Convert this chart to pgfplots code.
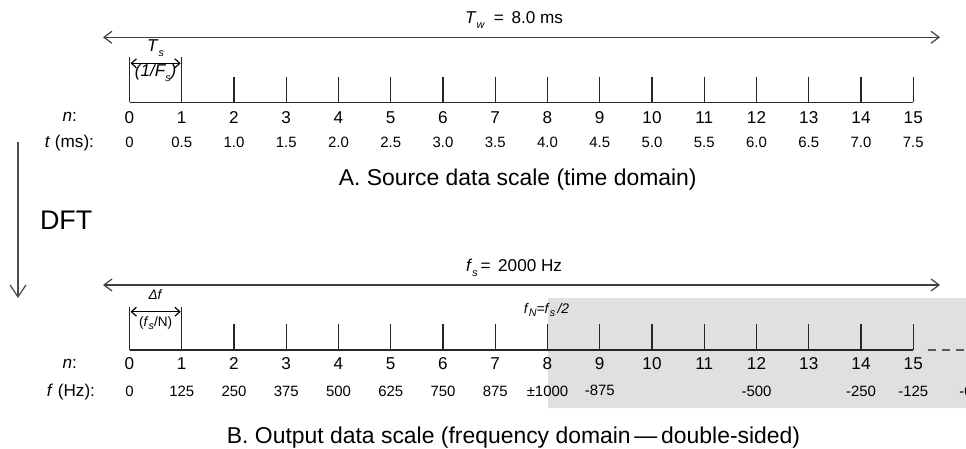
\documentclass[border=0pt]{standalone}
\usepackage{pgfplots}
\pgfplotsset{compat=1.18}
\usetikzlibrary{arrows.meta}
\usepackage{fontspec}
\setmainfont{Liberation Sans}
\newcommand{\fN}{\fontsize{8.6}{10}\selectfont}
\newcommand{\fT}{\fontsize{7.5}{9}\selectfont}
\newcommand{\fTitle}{\fontsize{11.5}{13}\selectfont}
\newcommand{\sub}[1]{\raisebox{-0.5ex}{\fontsize{5.4}{6}\selectfont\itshape #1}}
\begin{document}
\begin{tikzpicture}
\path[use as bounding box] (0,0) rectangle (483bp,224.5bp);
\begin{axis}[at={(0,0)},anchor=south west,scale only axis,
  width=483bp,height=224.5bp,
  xmin=-2.4785,xmax=16.0096,ymin=0,ymax=449,y dir=reverse,
  hide axis,clip=false]
% shaded negative-frequency region
\addplot[fill=black!12,draw=none] coordinates {(8.01,298)(16.0096,298)(16.0096,408)(8.01,408)(8.01,298)};
% ---------- A: time domain ----------
\addplot[line width=0.6pt,black!75,{Straight Barb[length=4bp,width=6bp]}-{Straight Barb[length=4bp,width=6bp]}] coordinates {(-0.507,37.3)(15.512,37.3)};
\addplot[line width=0.55pt,black!85] coordinates {(0,102.3)(15,102.3)};
\addplot[line width=0.55pt,black!85] coordinates {(0,57)(0,102.3)};
\addplot[line width=0.55pt,black!85] coordinates {(1,57)(1,102.3)};
\pgfplotsinvokeforeach{2,...,15}{
  \addplot[line width=0.55pt,black!85] coordinates {(#1,76.7)(#1,102.3)};
}
\addplot[line width=0.6pt,black,{Straight Barb[length=2.5bp,width=4.5bp]}-{Straight Barb[length=2.5bp,width=4.5bp]}] coordinates {(0.02,63.3)(0.98,63.3)};
% ---------- B: frequency domain ----------
\addplot[line width=0.6pt,black!75,{Straight Barb[length=4bp,width=6bp]}-{Straight Barb[length=4bp,width=6bp]}] coordinates {(-0.507,285)(15.512,285)};
\addplot[line width=0.55pt,black!85] coordinates {(0,350)(15,350)};
\addplot[line width=0.55pt,black!65,dash pattern=on 4bp off 3bp] coordinates {(15.28,350)(16.0096,350)};
\addplot[line width=0.55pt,black!85] coordinates {(0,306.7)(0,350)};
\addplot[line width=0.55pt,black!85] coordinates {(1,306.7)(1,350)};
\pgfplotsinvokeforeach{2,...,15}{
  \addplot[line width=0.55pt,black!85] coordinates {(#1,324)(#1,350)};
}
\addplot[line width=0.6pt,black,{Straight Barb[length=2.5bp,width=4.5bp]}-{Straight Barb[length=2.5bp,width=4.5bp]}] coordinates {(0.02,311.7)(0.98,311.7)};
% DFT arrow
\addplot[line width=0.6pt,black!70,-{Straight Barb[length=6bp,width=8bp]}] coordinates {(-2.134,142)(-2.134,298)};
% ---------- text ----------
\node[font=\fN] at (axis cs:7.36,20) {\textit{T}\sub{w}\ \ =\ \,8.0 ms};
\node[font=\fN] at (axis cs:0.5,48) {\textit{T}\sub{s}};
\node[font=\fN] at (axis cs:0.5,73) {\textit{(1/F\sub{s})}};
\pgfplotsinvokeforeach{0,...,15}{
  \node[font=\fN] at (axis cs:#1,117.3) {#1};
  \node[font=\fN] at (axis cs:#1,364) {#1};
}
\node[font=\fN,anchor=east] at (axis cs:-0.871,117.3) {\textit{n}:};
\node[font=\fN,anchor=east] at (axis cs:-0.545,142.7) {\textit{t} (ms):};
\node[font=\fT] at (axis cs:0,142.7) {0};
\node[font=\fT] at (axis cs:1,142.7) {0.5};
\node[font=\fT] at (axis cs:2,142.7) {1.0};
\node[font=\fT] at (axis cs:3,142.7) {1.5};
\node[font=\fT] at (axis cs:4,142.7) {2.0};
\node[font=\fT] at (axis cs:5,142.7) {2.5};
\node[font=\fT] at (axis cs:6,142.7) {3.0};
\node[font=\fT] at (axis cs:7,142.7) {3.5};
\node[font=\fT] at (axis cs:8,142.7) {4.0};
\node[font=\fT] at (axis cs:9,142.7) {4.5};
\node[font=\fT] at (axis cs:10,142.7) {5.0};
\node[font=\fT] at (axis cs:11,142.7) {5.5};
\node[font=\fT] at (axis cs:12,142.7) {6.0};
\node[font=\fT] at (axis cs:13,142.7) {6.5};
\node[font=\fT] at (axis cs:14,142.7) {7.0};
\node[font=\fT] at (axis cs:15,142.7) {7.5};
\node[font=\fTitle] at (axis cs:7.43,180) {A. Source data scale (time domain)};
\node[font=\fontsize{13.5}{15}\selectfont,anchor=west] at (axis cs:-1.847,220) {DFT};
\node[font=\fN] at (axis cs:7.36,268) {\textit{f}\sub{s}\,=\ \,2000 Hz};
\node[font=\fontsize{6.8}{8}\selectfont] at (axis cs:0.5,295) {\textit{Δf}};
\node[font=\fontsize{6.8}{8}\selectfont] at (axis cs:0.5,323) {(\textit{f}\sub{s}/N)};
\node[font=\fontsize{7}{8}\selectfont] at (axis cs:7.98,310) {\textit{f}\sub{N}\textit{=f}\sub{s}\,\textit{/2}};
\node[font=\fN,anchor=east] at (axis cs:-0.871,364) {\textit{n}:};
\node[font=\fN,anchor=east] at (axis cs:-0.526,391.7) {\textit{f} (Hz):};
\node[font=\fT] at (axis cs:0,391.7) {0};
\node[font=\fT] at (axis cs:1,391.7) {125};
\node[font=\fT] at (axis cs:2,391.7) {250};
\node[font=\fT] at (axis cs:3,391.7) {375};
\node[font=\fT] at (axis cs:4,391.7) {500};
\node[font=\fT] at (axis cs:5,391.7) {625};
\node[font=\fT] at (axis cs:6,391.7) {750};
\node[font=\fT] at (axis cs:7,391.7) {875};
\node[font=\fT] at (axis cs:8,391.7) {±1000};
\node[font=\fT] at (axis cs:9,390.7) {-875};
\node[font=\fT] at (axis cs:12,391.7) {-500};
\node[font=\fT] at (axis cs:14,391.7) {-250};
\node[font=\fT] at (axis cs:15,391.7) {-125};
\node[font=\fT,anchor=west] at (axis cs:15.75,391.7) {-0};
\node[font=\fTitle] at (axis cs:7.35,438) {B. Output data scale (frequency domain\,—\,double-sided)};
\end{axis}
\end{tikzpicture}
\end{document}
